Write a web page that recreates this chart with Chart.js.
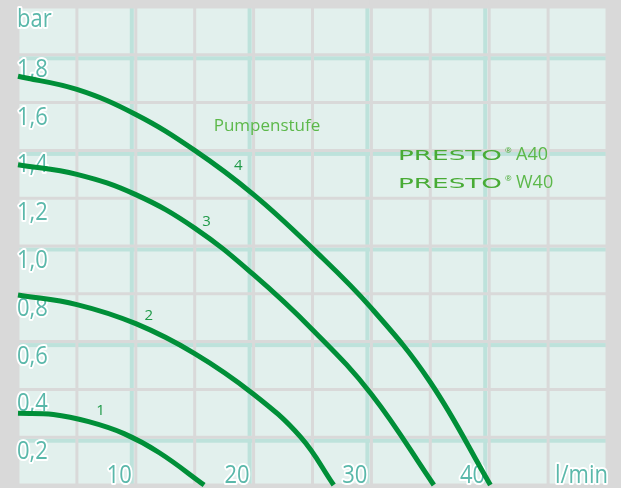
<!DOCTYPE html>
<html>
<head>
<meta charset="utf-8">
<script src="https://cdn.jsdelivr.net/npm/chart.js@4/dist/chart.umd.min.js"></script>
<style>
  html, body { margin: 0; padding: 0; background: #d9d9d9; }
  canvas { display: block; }
</style>
</head>
<body>
<canvas id="pumpChart" width="621" height="488"></canvas>
<script>
// Pumpenstufe 1..4 : Förderhöhe (bar) über Förderstrom (l/min)
var flow1 = [0, 3, 6, 9, 12, 15.8];
var press1 = [0.30, 0.295, 0.265, 0.215, 0.135, 0];
var flow2 = [0, 5, 10, 15, 20, 24, 26.8];
var press2 = [0.795, 0.755, 0.675, 0.55, 0.38, 0.20, 0];
var flow3 = [0, 5, 10, 15, 20, 25, 30, 35.3];
var press3 = [1.34, 1.30, 1.215, 1.075, 0.88, 0.65, 0.38, 0];
var flow4 = [0, 5, 10, 15, 20, 25, 30, 35, 40.1];
var press4 = [1.71, 1.655, 1.55, 1.40, 1.215, 0.99, 0.74, 0.43, 0];

// label position of each curve number
var stufeNames = ["1", "2", "3", "4"];
var stufeLabelX = [7.0, 11.1, 16.0, 18.7];
var stufeLabelY = [0.31, 0.71, 1.10, 1.335];

var xTicks = [10, 20, 30, 40];
var yTicks = [0.2, 0.4, 0.6, 0.8, 1.0, 1.2, 1.4, 1.6, 1.8];
var yTickText = ["0,2", "0,4", "0,6", "0,8", "1,0", "1,2", "1,4", "1,6", "1,8"];
var xUnit = "l/min";
var yUnit = "bar";
var models = ["A40", "W40"];

var lineColor = "#008f38";
var tickColor = "#5ab8aa";
var greyLine = "#d9d9d9";
var tealLine = "#bde2db";

function toPoints(xs, ys) {
    var pts = [];
    for (var i = 0; i < xs.length; i++) {
        pts.push({ x: xs[i], y: ys[i] });
    }
    return pts;
}

function makeSet(label, xs, ys) {
    return {
        label: label,
        data: toPoints(xs, ys),
        showLine: true,
        borderColor: lineColor,
        backgroundColor: lineColor,
        borderWidth: 5,
        pointRadius: 0,
        pointHoverRadius: 0,
        tension: 0.4,
        borderCapStyle: 'butt',
        clip: false
    };
}

// draws text squeezed horizontally (the original uses a narrow face)
function tickText(ctx, txt, x, y, align) {
    ctx.save();
    var w = ctx.measureText(txt).width * 0.88;
    var left = align === "right" ? x - w : x;
    ctx.translate(left, y);
    ctx.scale(0.88, 1);
    ctx.strokeText(txt, 0, 0);
    ctx.fillText(txt, 0, 0);
    ctx.restore();
}

// Hintergrund + Raster
const gridPlugin = {
    id: 'gridPlugin',
    beforeDraw(chart) {
        const ctx = chart.ctx;
        const a = chart.chartArea;
        const xs = chart.scales.x, ys = chart.scales.y;
        ctx.save();
        ctx.fillStyle = greyLine;
        ctx.fillRect(0, 0, chart.width, chart.height);
        ctx.fillStyle = "#e2f0ed";
        ctx.fillRect(a.left, a.top, a.right - a.left, a.bottom - a.top);

        // teal shadow lines at the major grid
        ctx.fillStyle = tealLine;
        for (var v = 10; v < 50; v += 10) {
            var px = xs.getPixelForValue(v);
            ctx.fillRect(px - 6, a.top, 4, a.bottom - a.top);
        }
        for (var k = 1; k < 10; k += 2) {
            var py = ys.getPixelForValue(k * 0.2);
            ctx.fillRect(a.left, py + 1.5, a.right - a.left, 4);
        }

        // grey lines
        ctx.strokeStyle = greyLine;
        ctx.lineWidth = 3;
        ctx.beginPath();
        for (var g = 0; g <= 50; g += 5) {
            var gx = xs.getPixelForValue(g);
            ctx.moveTo(gx, 0);
            ctx.lineTo(gx, chart.height);
        }
        for (var j = 0; j <= 10; j++) {
            var gy = ys.getPixelForValue(j * 0.2);
            ctx.moveTo(0, gy);
            ctx.lineTo(chart.width, gy);
        }
        ctx.stroke();

        // axis tick labels
        ctx.font = "25px 'Open Sans'";
        ctx.lineJoin = "round";
        ctx.lineWidth = 4;
        ctx.strokeStyle = "#ffffff";
        ctx.fillStyle = tickColor;
        ctx.textAlign = "left";
        ctx.textBaseline = "alphabetic";
        for (var t = 0; t < yTicks.length; t++) {
            var ty = ys.getPixelForValue(yTicks[t]) + 22;
            tickText(ctx, yTickText[t], 17, ty, "left");
        }
        tickText(ctx, yUnit, 17, 27, "left");

        for (var s = 0; s < xTicks.length; s++) {
            var tx = xs.getPixelForValue(xTicks[s]) - 4;
            tickText(ctx, String(xTicks[s]), tx, 483, "right");
        }
        tickText(ctx, xUnit, 608, 483, "right");
        ctx.restore();
    },
    afterDatasetsDraw(chart) {
        const ctx = chart.ctx;
        const xs = chart.scales.x, ys = chart.scales.y;
        ctx.save();
        ctx.textAlign = "center";
        ctx.textBaseline = "middle";
        ctx.fillStyle = "#1f9a48";
        ctx.font = "15px 'Open Sans'";
        for (var i = 0; i < stufeNames.length; i++) {
            ctx.fillText(stufeNames[i], xs.getPixelForValue(stufeLabelX[i]), ys.getPixelForValue(stufeLabelY[i]));
        }
        ctx.fillStyle = "#5cb84a";
        ctx.font = "17px 'Open Sans'";
        ctx.fillText("Pumpenstufe", 267, 126);

        // PRESTO logo lines
        ctx.textAlign = "left";
        ctx.textBaseline = "alphabetic";
        for (var m = 0; m < models.length; m++) {
            var by = 160 + m * 28;
            ctx.save();
            ctx.font = "14px 'DejaVu Sans'";
            var sx = 104 / ctx.measureText("PRESTO").width;
            ctx.translate(398, by);
            ctx.scale(sx, 1);
            ctx.fillStyle = "#48ab35";
            ctx.fillText("PRESTO", 0, 0);
            ctx.restore();
            ctx.fillStyle = "#48ab35";
            ctx.font = "8px 'Open Sans'";
            ctx.fillText("®", 505, by - 7);
            ctx.fillStyle = "#5cb84a";
            ctx.font = "18px 'Open Sans'";
            ctx.fillText(models[m], 516, by);
        }
        ctx.restore();
    }
};

var myChart = new Chart(document.getElementById("pumpChart"), {
    type: 'scatter',
    data: {
        datasets: [
            makeSet("Stufe 1", flow1, press1),
            makeSet("Stufe 2", flow2, press2),
            makeSet("Stufe 3", flow3, press3),
            makeSet("Stufe 4", flow4, press4)
        ]
    },
    options: {
        responsive: false,
        animation: false,
        layout: { padding: { left: 18, right: 14, top: 7, bottom: 3 } },
        plugins: {
            legend: { display: false },
            tooltip: { enabled: false }
        },
        scales: {
            x: { type: 'linear', min: 0, max: 50, display: false },
            y: { type: 'linear', min: 0, max: 2, display: false }
        }
    },
    plugins: [gridPlugin]
});
</script>
</body>
</html>
